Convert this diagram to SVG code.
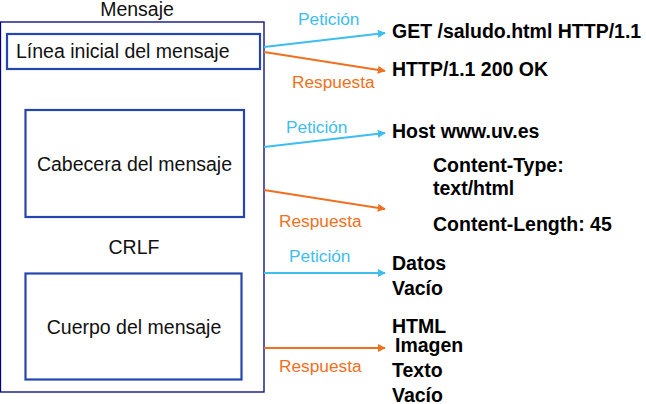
<svg xmlns="http://www.w3.org/2000/svg" width="646" height="404" viewBox="0 0 646 404">
<defs>
<marker id="ab" viewBox="0 0 10 10" refX="9" refY="5" markerWidth="4" markerHeight="4" orient="auto" markerUnits="strokeWidth"><path d="M0,0 L10,5 L0,10 z" fill="#3dbdf0"/></marker>
<marker id="ao" viewBox="0 0 10 10" refX="9" refY="5" markerWidth="4" markerHeight="4" orient="auto" markerUnits="strokeWidth"><path d="M0,0 L10,5 L0,10 z" fill="#f07020"/></marker>
</defs>
<style>
.t{font-family:"Liberation Sans",Arial,sans-serif;font-size:19.5px;fill:#111}
.b{font-family:"Liberation Sans",Arial,sans-serif;font-size:19.5px;font-weight:bold;fill:#000}
.lp{font-family:"Liberation Sans",Arial,sans-serif;font-size:17.3px;fill:#3dbdf0}
.lr{font-family:"Liberation Sans",Arial,sans-serif;font-size:17.3px;fill:#f07020}
.box{fill:#fff;stroke:#2545b0;stroke-width:2.2}
.cb{stroke:#3dbdf0;stroke-width:2;fill:none;marker-end:url(#ab)}
.co{stroke:#f07020;stroke-width:2;fill:none;marker-end:url(#ao)}
</style>
<rect width="646" height="404" fill="#fff"/>
<g id="mensaje">
<rect x="0.5" y="22" width="263.5" height="370" fill="#fff" stroke="#000080" stroke-width="1.3"/>
<text class="t" x="137" y="16" text-anchor="middle">Mensaje</text>
</g>
<g id="linea">
<rect class="box" x="7" y="34" width="253" height="35"/>
<text class="t" x="16" y="58">Línea inicial del mensaje</text>
</g>
<g id="cabecera">
<rect class="box" x="25.5" y="110" width="218.5" height="107"/>
<text class="t" x="134.5" y="171" text-anchor="middle">Cabecera del mensaje</text>
</g>
<text id="crlf" class="t" x="134" y="254" text-anchor="middle">CRLF</text>
<g id="cuerpo">
<rect class="box" x="25.5" y="273.5" width="216" height="106"/>
<text class="t" x="134" y="334" text-anchor="middle">Cuerpo del mensaje</text>
</g>
<g id="connectors">
<line class="cb" x1="264" y1="47" x2="385" y2="33"/>
<line class="co" x1="264" y1="52" x2="385" y2="71"/>
<line class="cb" x1="264" y1="147" x2="385" y2="133"/>
<line class="co" x1="264" y1="190" x2="385" y2="209"/>
<line class="cb" x1="264" y1="273" x2="385" y2="273"/>
<line class="co" x1="264" y1="348" x2="385" y2="348"/>
<text class="lp" x="298" y="25">Petición</text>
<text class="lr" x="292" y="88">Respuesta</text>
<text class="lp" x="286" y="133">Petición</text>
<text class="lr" x="279" y="227">Respuesta</text>
<text class="lp" x="289" y="262">Petición</text>
<text class="lr" x="279" y="372">Respuesta</text>
</g>
<g id="valores">
<text class="b" x="392" y="38">GET /saludo.html HTTP/1.1</text>
<text class="b" x="392" y="76">HTTP/1.1 200 OK</text>
<text class="b" x="392" y="138">Host www.uv.es</text>
<text class="b" x="433" y="172">Content-Type:</text>
<text class="b" x="433" y="195">text/html</text>
<text class="b" x="433" y="231">Content-Length: 45</text>
<text class="b" x="392" y="270">Datos</text>
<text class="b" x="392" y="295">Vacío</text>
<text class="b" x="392" y="333">HTML</text>
<text class="b" x="395" y="352">Imagen</text>
<text class="b" x="392" y="377">Texto</text>
<text class="b" x="392" y="402">Vacío</text>
</g>
</svg>
